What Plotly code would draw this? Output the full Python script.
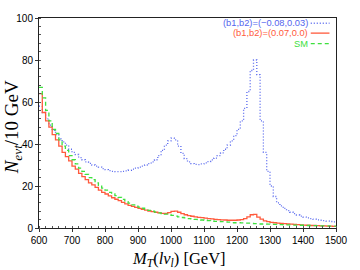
import plotly.graph_objects as go

bin_edges = list(range(600, 1510, 10))  # 600..1500 GeV, 10 GeV bins

n_b1b2_neg = [58, 55, 52, 49, 46.5, 44.5, 42.5, 41, 39.5, 37.5,
              36, 35, 33.5, 32.5, 31.5, 30.8, 30, 29.5, 29, 28.3,
              27.8, 27.3, 27, 26.8, 26.8, 27, 27.2, 27.5, 28, 28.5,
              29, 29.5, 30, 30.7, 31.5, 32.5, 34.5, 37, 39.5, 41.5,
              42.8, 42, 39, 35.5, 33, 31.5, 30.7, 30.3, 30.2, 30.5,
              31, 31.6, 32.4, 33.3, 34.5, 35.8, 37.5, 39.5, 41.5, 44,
              47, 51, 57, 65, 75, 80, 73, 51, 36, 27,
              20, 15, 12, 10.5, 9.3, 8.3, 7.5, 6.8, 6.2, 5.7,
              5.2, 4.8, 4.5, 4.2, 3.9, 3.7, 3.5, 3.3, 3.1, 2.9]

n_b1b2_pos = [64, 55, 51, 48, 44.5, 42, 39, 36, 34, 32,
              29.5, 28, 26, 24.5, 23, 21.5, 20.5, 19.3, 18, 17,
              16.2, 15.3, 14.4, 13.7, 13, 12.2, 11.5, 10.8, 10.3, 9.8,
              9.3, 8.9, 8.5, 8.1, 7.8, 7.5, 7.2, 7.0, 6.9, 7.3,
              7.9, 8.0, 7.5, 6.8, 6.3, 5.9, 5.6, 5.3, 5.1, 4.9,
              4.7, 4.5, 4.3, 4.1, 4.0, 3.9, 3.8, 3.7, 3.7, 3.7,
              3.8, 4.0, 4.5, 5.3, 6.3, 6.5, 5.2, 4.2, 3.4, 3.0,
              2.7, 2.5, 2.3, 2.2, 2.1, 1.9, 1.8, 1.7, 1.6, 1.5,
              1.4, 1.3, 1.2, 1.2, 1.1, 1.0, 1.0, 0.9, 0.9, 0.8]

n_sm = [67, 62, 56, 51, 47, 45, 42, 39, 37, 34.5,
        32.5, 30.5, 28.5, 27, 25.5, 24, 23, 21.5, 20.3, 19,
        18, 17, 16.2, 15.4, 14.6, 13.6, 12.6, 11.8, 11, 10.4,
        9.9, 9.4, 8.9, 8.4, 8.0, 7.6, 7.2, 6.9, 6.6, 6.3,
        6.0, 5.7, 5.3, 5.0, 4.8, 4.5, 4.3, 4.1, 4.0, 3.8,
        3.7, 3.5, 3.4, 3.2, 3.1, 3.0, 2.9, 2.8, 2.6, 2.5,
        2.5, 2.4, 2.3, 2.3, 2.2, 2.1, 2.0, 1.9, 1.9, 1.8,
        1.7, 1.7, 1.6, 1.6, 1.5, 1.5, 1.4, 1.4, 1.4, 1.3,
        1.3, 1.2, 1.2, 1.1, 1.1, 1.0, 1.0, 1.0, 0.9, 0.9]

series = [
    ("(b1,b2)=(\u22120.08,0.03)", n_b1b2_neg, "#5566ee", "1px,2px"),
    ("(b1,b2)=(0.07,0.0)", n_b1b2_pos, "#ff5a3c", "solid"),
    ("SM", n_sm, "#3ee03e", "4px,3px"),
]

fig = go.Figure()
for name, vals, color, dash in series:
    fig.add_trace(go.Scatter(
        x=bin_edges, y=list(vals) + [vals[-1]],
        mode="lines", line=dict(color=color, width=1.3, dash=dash, shape="hv"),
        name=name, showlegend=False))

# manual legend (text left of line sample, as in reference)
leg_y = [0.975, 0.928, 0.878]
for (name, vals, color, dash), yy in zip(series, leg_y):
    fig.add_annotation(x=0.912, y=yy, xref="paper", yref="paper", text=name,
                       showarrow=False, xanchor="right", yanchor="middle",
                       font=dict(family="Liberation Sans, Arial", size=9.3, color=color))
    fig.add_shape(type="line", xref="paper", yref="paper", x0=0.915, x1=0.978,
                  y0=yy, y1=yy, line=dict(color=color, width=1.3, dash=dash))

serif = "Liberation Serif, DejaVu Serif, serif"
# axis titles
fig.add_annotation(x=0.47, y=-0.148, xref="paper", yref="paper",
                   text="<i>M</i><sub><i>T</i></sub>(<i>l\u03bd</i><sub><i>l</i></sub>) [GeV]",
                   showarrow=False, xanchor="center", yanchor="middle",
                   font=dict(family=serif, size=16.5, color="#000"))
fig.add_annotation(x=-0.087, y=0.48, xref="paper", yref="paper", textangle=-90,
                   text="<i>N</i><sub><i>evt</i></sub>/10 GeV",
                   showarrow=False, xanchor="center", yanchor="middle",
                   font=dict(family=serif, size=19, color="#000"))

axis_common = dict(showline=True, linecolor="#222", linewidth=1, mirror=True,
                   showgrid=False, zeroline=False, ticks="outside", ticklen=3,
                   tickcolor="#333", tickfont=dict(family="Liberation Sans, Arial", size=10, color="#000"))

fig.update_xaxes(range=[600, 1500], dtick=100, tick0=600,
                 minor=dict(dtick=20, ticks="inside", ticklen=2, tickcolor="#555"),
                 **axis_common)
fig.update_yaxes(range=[0, 100], dtick=20,
                 minor=dict(dtick=4, ticks="inside", ticklen=2, tickcolor="#555"),
                 **axis_common)

fig.update_layout(width=360, height=270, margin=dict(l=39, r=21, t=12, b=42),
                  plot_bgcolor="white", paper_bgcolor="white")

fig.write_html("out.html", config={"displayModeBar": False},
               post_script="document.body.style.margin='0';document.body.style.overflow='hidden';")
